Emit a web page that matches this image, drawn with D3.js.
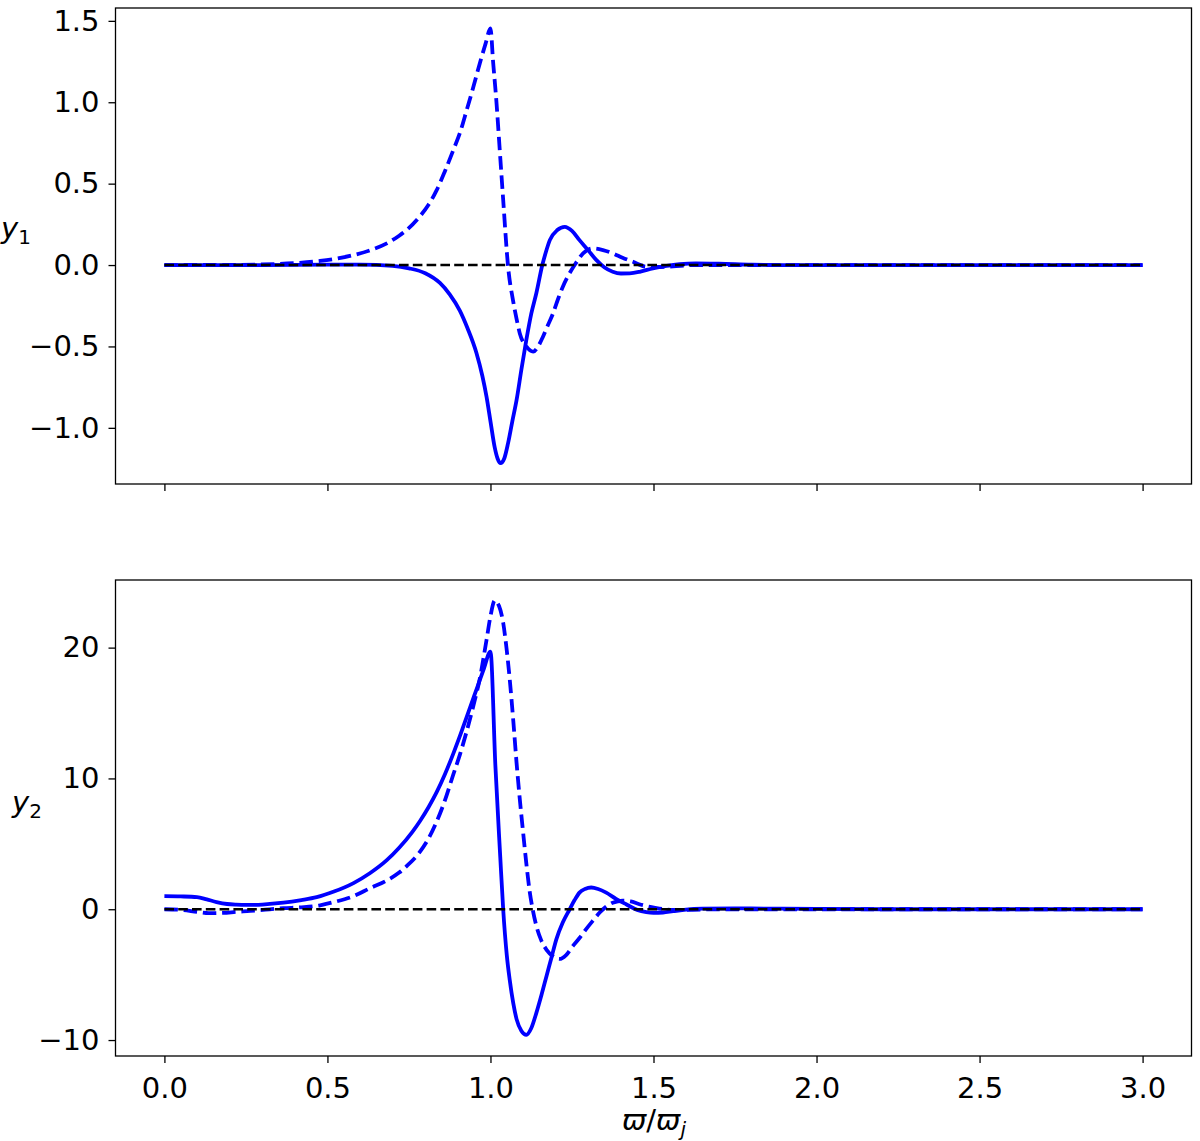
<!DOCTYPE html>
<html>
<head>
<meta charset="utf-8">
<script src="https://cdn.jsdelivr.net/npm/d3@7"></script>
<style>
  body { margin: 0; background: #fff; }
  svg { display: block; font-family: "DejaVu Sans", sans-serif; }
</style>
</head>
<body>
<svg id="chart" width="1200" height="1141"></svg>
<script>
// values, as [x, y] pairs
const y1Solid = [[0,0],[0.3,0],[0.5,0.002],[0.6,0.003],[0.7,-0.005],[0.75,-0.02],[0.8,-0.05],[0.845,-0.11],[0.875,-0.18],
  [0.906,-0.28],[0.93,-0.39],[0.957,-0.54],[0.975,-0.68],[0.988,-0.81],[1.0,-0.96],[1.013,-1.12],[1.022,-1.19],[1.031,-1.217],
  [1.042,-1.19],[1.054,-1.094],[1.067,-0.96],[1.08,-0.83],[1.095,-0.64],[1.11,-0.46],[1.125,-0.3],[1.141,-0.17],[1.159,0],
  [1.17,0.08],[1.182,0.153],[1.205,0.215],[1.228,0.235],[1.25,0.21],[1.273,0.153],[1.3,0.09],[1.325,0.03],[1.35,-0.015],
  [1.375,-0.041],[1.4,-0.052],[1.427,-0.051],[1.46,-0.04],[1.498,-0.02],[1.54,-0.005],[1.58,0.005],[1.63,0.01],[1.7,0.008],
  [1.8,0.002],[1.9,0],[3.0,0]];

const y1Dashed = [[0,0],[0.2,0.001],[0.3,0.004],[0.4,0.012],[0.4775,0.025],[0.53,0.04],[0.58,0.061],[0.63,0.09],[0.682,0.133],
  [0.72,0.18],[0.743,0.215],[0.784,0.3],[0.81,0.37],[0.835,0.46],[0.86,0.575],[0.886,0.706],[0.906,0.81],[0.927,0.951],
  [0.947,1.09],[0.967,1.237],[0.985,1.36],[1.0,1.454],[1.008,1.25],[1.018,1.01],[1.028,0.72],[1.039,0.4],[1.054,-0.01],
  [1.069,-0.215],[1.08,-0.33],[1.09,-0.42],[1.11,-0.5],[1.131,-0.532],[1.146,-0.5],[1.161,-0.44],[1.176,-0.37],[1.192,-0.296],
  [1.207,-0.21],[1.222,-0.133],[1.24,-0.06],[1.258,0],[1.284,0.072],[1.314,0.102],[1.345,0.092],[1.375,0.072],[1.405,0.045],
  [1.437,0.02],[1.478,-0.01],[1.52,-0.012],[1.56,-0.008],[1.62,0],[3.0,0]];

const y2Solid = [[0,1.0],[0.05,0.98],[0.1,0.93],[0.13,0.75],[0.16,0.55],[0.192,0.4],[0.22,0.35],[0.253,0.33],[0.3,0.36],
  [0.365,0.5],[0.42,0.7],[0.467,0.92],[0.52,1.35],[0.58,2.0],[0.63,2.75],[0.682,3.75],[0.72,4.7],[0.76,5.9],[0.784,6.75],
  [0.81,7.8],[0.835,8.95],[0.86,10.3],[0.886,11.9],[0.91,13.5],[0.937,15.4],[0.96,17.0],[0.98,18.4],[1.0,19.7],[1.015,11],
  [1.03,4],[1.039,0],[1.05,-3.5],[1.059,-5.4],[1.07,-7.2],[1.08,-8.4],[1.095,-9.3],[1.11,-9.6],[1.125,-9.1],[1.141,-7.9],
  [1.157,-6.5],[1.172,-5.1],[1.187,-3.7],[1.202,-2.3],[1.222,-1.0],[1.243,0],[1.258,0.7],[1.273,1.27],[1.29,1.55],[1.309,1.66],
  [1.33,1.55],[1.355,1.27],[1.385,0.8],[1.416,0.38],[1.45,-0.05],[1.478,-0.22],[1.5,-0.27],[1.529,-0.25],[1.56,-0.15],
  [1.6,-0.03],[1.65,0.04],[1.75,0.07],[1.85,0.05],[2.0,0.02],[2.2,0],[3.0,0]];

const y2Dashed = [[0,0],[0.05,-0.05],[0.1,-0.2],[0.136,-0.3],[0.18,-0.28],[0.22,-0.2],[0.263,-0.13],[0.31,-0.03],[0.365,0.08],
  [0.42,0.15],[0.4775,0.3],[0.52,0.55],[0.58,1.0],[0.63,1.6],[0.682,2.2],[0.72,2.8],[0.743,3.3],[0.784,4.4],[0.81,5.4],
  [0.835,6.7],[0.86,8.3],[0.886,10.3],[0.906,11.8],[0.927,13.6],[0.947,15.5],[0.967,17.6],[0.988,20.6],[1.0,22.4],[1.013,23.6],
  [1.026,23.2],[1.039,21.9],[1.049,20.0],[1.059,17.6],[1.07,14.4],[1.08,11.2],[1.09,8.4],[1.1,5.9],[1.11,3.5],[1.12,1.4],
  [1.131,-0.2],[1.141,-1.3],[1.156,-2.4],[1.172,-3.1],[1.192,-3.6],[1.212,-3.8],[1.232,-3.5],[1.253,-2.8],[1.273,-2.2],
  [1.294,-1.5],[1.315,-0.85],[1.335,-0.25],[1.355,0.2],[1.375,0.5],[1.406,0.65],[1.43,0.6],[1.457,0.38],[1.49,0.18],
  [1.518,0.05],[1.56,-0.05],[1.62,-0.04],[1.7,0],[3.0,0]];

const zeroLine = [[0,0],[3,0]];

const xTicks = [0, 0.5, 1.0, 1.5, 2.0, 2.5, 3.0];
const y1Ticks = [-1.0, -0.5, 0.0, 0.5, 1.0, 1.5];
const y2Ticks = [-10, 0, 10, 20];

const svg = d3.select("#chart");

const x = d3.scaleLinear().domain([-0.15, 3.15]).range([115.5, 1191.5]);

const panels = [
  { top: 8, bottom: 484, domain: [-1.345, 1.579], ticks: y1Ticks, fmt: d3.format(".1f"),
    solid: y1Solid, dashed: y1Dashed, label: "1", labelX: 1, labelY: 238, xLabels: false },
  { top: 580, bottom: 1056, domain: [-11.22, 25.17], ticks: y2Ticks, fmt: d3.format("d"),
    solid: y2Solid, dashed: y2Dashed, label: "2", labelX: 12, labelY: 812, xLabels: true }
];

panels.forEach(p => {
  const y = d3.scaleLinear().domain(p.domain).range([p.bottom, p.top]);
  const line = d3.line().x(d => x(d[0])).y(d => y(d[1])).curve(d3.curveMonotoneX);

  const clipId = "clip" + p.top;
  svg.append("clipPath").attr("id", clipId)
    .append("rect").attr("x", 115.5).attr("y", p.top).attr("width", 1076).attr("height", p.bottom - p.top);

  const g = svg.append("g").attr("clip-path", `url(#${clipId})`);

  g.append("path").datum(p.solid)
    .attr("d", line).attr("fill", "none")
    .attr("stroke", "#0000ff").attr("stroke-width", 3.8)
    .attr("stroke-linejoin", "round");

  g.append("path").datum(p.dashed)
    .attr("d", line).attr("fill", "none")
    .attr("stroke", "#0000ff").attr("stroke-width", 3.8)
    .attr("stroke-dasharray", "13.5,5.8");

  g.append("path").datum(zeroLine)
    .attr("d", d3.line().x(d => x(d[0])).y(d => y(d[1])))
    .attr("fill", "none").attr("stroke", "#000").attr("stroke-width", 2.6)
    .attr("stroke-dasharray", "9.6,4.2");

  // axes
  const yAxis = d3.axisLeft(y).tickValues(p.ticks).tickFormat(p.fmt).tickSize(7).tickPadding(9);
  const ya = svg.append("g").attr("transform", "translate(115.5,0)").call(yAxis);

  const xAxis = d3.axisBottom(x).tickValues(xTicks).tickFormat(p.xLabels ? d3.format(".1f") : "")
    .tickSize(7).tickPadding(14);
  const xa = svg.append("g").attr("transform", `translate(0,${p.bottom})`).call(xAxis);

  [ya, xa].forEach(a => {
    a.select(".domain").remove();
    a.selectAll(".tick line").attr("stroke", "#000").attr("stroke-width", 1.3);
    a.selectAll(".tick text").attr("fill", "#000")
      .style("font-size", "29px").style("font-family", "'DejaVu Sans', sans-serif");
  });

  // frame
  svg.append("rect")
    .attr("x", 115.5).attr("y", p.top).attr("width", 1076).attr("height", p.bottom - p.top)
    .attr("fill", "none").attr("stroke", "#000").attr("stroke-width", 1.3);

  // y label, mathtext style y_n
  const lab = svg.append("text").attr("x", p.labelX).attr("y", p.labelY)
    .style("font-size", "29px").attr("fill", "#000");
  lab.append("tspan").style("font-style", "italic").text("y");
  lab.append("tspan").attr("dy", 6).style("font-size", "20px").text(p.label);
});

// x label
const xl = svg.append("text").attr("x", 654).attr("y", 1130).attr("text-anchor", "middle")
  .style("font-size", "29px").attr("fill", "#000");
xl.append("tspan").style("font-style", "italic").text("ϖ");
xl.append("tspan").text("/");
xl.append("tspan").style("font-style", "italic").text("ϖ");
xl.append("tspan").attr("dy", 6).style("font-size", "20px").style("font-style", "italic").text("j");
</script>
</body>
</html>
